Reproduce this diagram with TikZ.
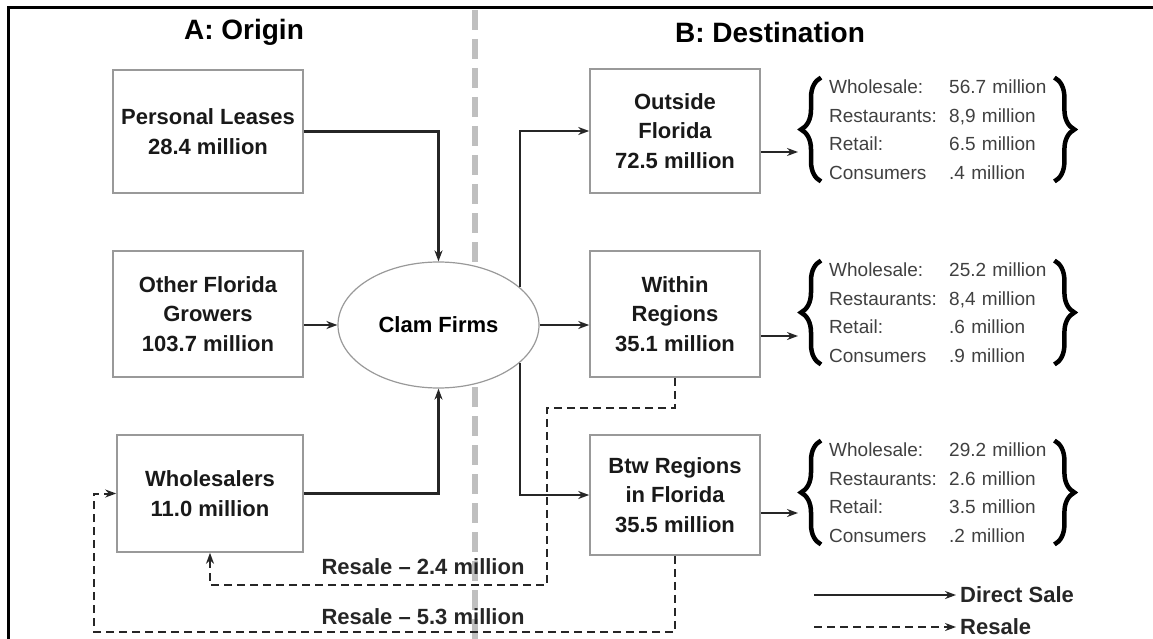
\documentclass[tikz,border=0pt]{standalone}
\usepackage{fontspec}
\setmainfont{Liberation Sans}
\usetikzlibrary{arrows.meta,shapes.geometric,decorations.pathreplacing}

\definecolor{boxgray}{gray}{0.6}
\definecolor{linegray}{gray}{0.15}
\definecolor{divgray}{gray}{0.75}
\definecolor{listgray}{gray}{0.25}

\newcommand{\boxfont}{\fontsize{22}{29.5}\selectfont\bfseries}
\newcommand{\headfont}{\fontsize{28}{32}\selectfont\bfseries}
\newcommand{\listfont}{\fontsize{19}{28.5}\selectfont}
\newcommand{\lstrow}[2]{\makebox[120pt][l]{#1}#2}

\begin{document}
\begin{tikzpicture}[x=1pt,y=-1pt,>={Stealth[length=11pt,width=8pt]},
	box/.style={draw=boxgray,line width=1.6pt,align=center,font=\boxfont,text=black!90,inner sep=0pt},
	lst/.style={anchor=west,align=left,text width=221pt,inner sep=0pt,font=\listfont,text=listgray},
	brc/.style={decorate,decoration={brace,amplitude=20pt},line width=4.5pt},
	direct/.style={->,draw=linegray,line width=2.2pt},
	resale/.style={->,draw=linegray,line width=2pt,dash pattern=on 8pt off 5pt},
	lbl/.style={font=\boxfont,text=black!85,inner sep=0pt}]
\useasboundingbox (0,0) rectangle (1153,639);
% frame and divider
\draw[line width=3pt] (8.5,650) -- (8.5,7.5) -- (1165,7.5);
\draw[divgray,line width=6pt,dash pattern=on 20pt off 9pt] (475,10) -- (475,650);

\node[font=\headfont] (hA) at (244,32) {A: Origin};
\node[font=\headfont] (hB) at (770,32) {B: Destination};

% origin
\node[box,minimum width=190pt,minimum height=123pt] (pl) at (208,131.5) {Personal Leases\\28.4 million};
\node[box,minimum width=190pt,minimum height=126pt] (ofg) at (208,314) {Other Florida\\Growers\\103.7 million};
\node[box,minimum width=186pt,minimum height=117pt] (whs) at (210,493.5) {Wholesalers\\11.0 million};
\node[ellipse,draw=boxgray,line width=1.2pt,fill=white,minimum width=201pt,minimum height=126pt,
	inner sep=0pt,font=\boxfont] (clam) at (438.5,325) {Clam Firms};

% destination
\node[box,minimum width=170pt,minimum height=124pt] (out) at (675,131) {Outside\\Florida\\72.5 million};
\node[box,minimum width=170pt,minimum height=126pt] (within) at (675,314) {Within\\Regions\\35.1 million};
\node[box,minimum width=170pt,minimum height=120pt] (btw) at (675,495) {Btw Regions\\in Florida\\35.5 million};

\node[lst] (l1) at (829,129.5) {\lstrow{Wholesale:}{56.7 million}\\\lstrow{Restaurants:}{8,9 million}\\
	\lstrow{Retail:}{6.5 million}\\\lstrow{Consumers}{.4 million}};
\node[lst] (l2) at (829,312.5) {\lstrow{Wholesale:}{25.2 million}\\\lstrow{Restaurants:}{8,4 million}\\
	\lstrow{Retail:}{.6 million}\\\lstrow{Consumers}{.9 million}};
\node[lst] (l3) at (829,492.5) {\lstrow{Wholesale:}{29.2 million}\\\lstrow{Restaurants:}{2.6 million}\\
	\lstrow{Retail:}{3.5 million}\\\lstrow{Consumers}{.2 million}};

\foreach \l in {l1,l2,l3}{
	\draw[brc] ([xshift=-8pt,yshift=-2pt]\l.south west) -- ([xshift=-8pt,yshift=2pt]\l.north west);
	\draw[brc] ([xshift=4pt,yshift=2pt]\l.north east) -- ([xshift=4pt,yshift=-2pt]\l.south east);
}

% direct sales
\draw[direct] (pl.east) -| (clam.north);
\draw[direct] (ofg.east |- clam.west) -- (clam.west);
\draw[direct] (whs.east) -| (clam.south);
\draw[direct] (clam.25) |- (out.west);
\draw[direct] (clam.east) -- (clam.east -| within.west);
\draw[direct] (clam.-25) |- (btw.west);
\foreach \b/\l/\d in {out/l1/21,within/l2/22,btw/l3/18}{
	\coordinate (tp) at ([xshift=-31pt]\l.west);
	\draw[direct] ([yshift=-\d pt]\b.east) -- ([yshift=-\d pt]\b.east -| tp);
}

% resale
\draw[resale] (within.south) |- (547,408) |- ([yshift=-32pt]whs.south) -- (whs.south);
\draw[resale] (btw.south) |- (94,632) |- (whs.west);
\node[lbl] (rs24) at (423,567) {Resale -- 2.4 million};
\node[lbl] (rs53) at (423,617) {Resale -- 5.3 million};

% legend
\node[lbl,anchor=west,inner sep=4pt] (lgD) at (956,595) {Direct Sale};
\node[lbl,anchor=west,inner sep=4pt] (lgR) at (956,627) {Resale};
\coordinate (lgDs) at (814,595);
\coordinate (lgRs) at (814,627);
\draw[direct] (lgDs) -- (lgD.west);
\draw[resale] (lgRs) -- (lgR.west);
\end{tikzpicture}
\end{document}
